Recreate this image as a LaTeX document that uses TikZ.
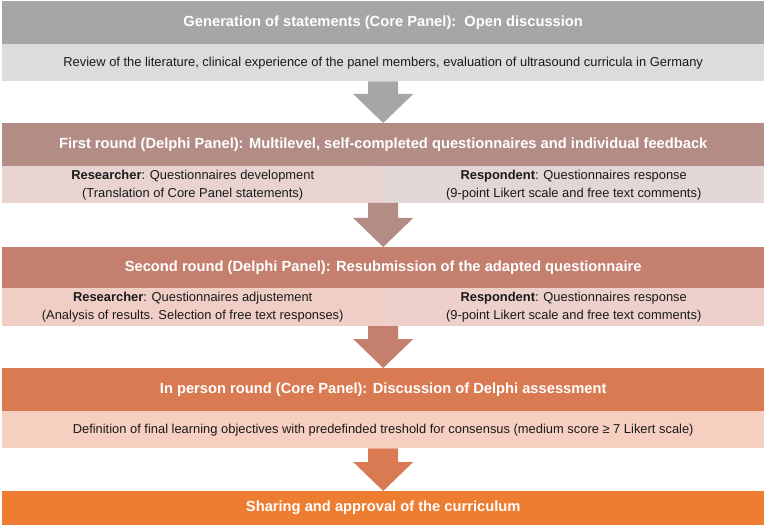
\documentclass[tikz,border=0pt]{standalone}
\usepackage{fontspec}
\setmainfont{Liberation Sans}
\usetikzlibrary{calc}
\definecolor{hA}{HTML}{A6A6A6}
\definecolor{sA}{HTML}{DCDCDC}
\definecolor{hB}{HTML}{B38C86}
\definecolor{sBl}{HTML}{E8D3D1}
\definecolor{sBr}{HTML}{E3D6D6}
\definecolor{hC}{HTML}{C47F6E}
\definecolor{sCl}{HTML}{F0CEC6}
\definecolor{sCr}{HTML}{EDD0CA}
\definecolor{hD}{HTML}{D97A52}
\definecolor{sD}{HTML}{F6CFC1}
\definecolor{hE}{HTML}{ED7D31}
\definecolor{txt}{HTML}{1A1A1A}
\tikzset{
  boxbase/.style={rectangle, inner sep=0pt, anchor=north west, align=center},
  hdr/.style={boxbase, minimum width=762pt, text=white, font=\fontsize{14.7}{18}\selectfont\bfseries},
  sub/.style={boxbase, minimum width=762pt, text=txt, font=\fontsize{12.9}{18}\selectfont},
  half/.style={boxbase, minimum width=381pt, text=txt, font=\fontsize{12.9}{18}\selectfont},
}
\begin{document}
\begin{tikzpicture}[x=1pt,y=-1pt]
\useasboundingbox (0,0) rectangle (767,526);
\fill[white] (0,0) rectangle (767,526);
% Block 1
\node[hdr, fill=hA, minimum height=43pt] (h1) at (2,1) {Generation of statements (Core Panel):\ \ Open discussion};
\node[sub, fill=sA, minimum height=37pt] (s1) at (2,44) {Review of the literature, clinical experience of the panel members, evaluation of ultrasound curricula in Germany};
% Block 2
\node[hdr, fill=hB, minimum height=43pt] (h2) at (2,123) {First round (Delphi Panel): Multilevel, self-completed questionnaires and individual feedback};
\node[half, fill=sBl, minimum height=37pt] (s2l) at (2,166) {\textbf{Researcher}: Questionnaires development\\(Translation of Core Panel statements)};
\node[half, fill=sBr, minimum height=37pt] (s2r) at (383,166) {\textbf{Respondent}: Questionnaires response\\(9-point Likert scale and free text comments)};
\coordinate (s2) at (383,203);
% Block 3
\node[hdr, fill=hC, minimum height=41pt] (h3) at (2,247) {Second round (Delphi Panel): Resubmission of the adapted questionnaire};
\node[half, fill=sCl, minimum height=38pt] (s3l) at (2,288) {\textbf{Researcher}: Questionnaires adjustement\\(Analysis of results. Selection of free text responses)};
\node[half, fill=sCr, minimum height=38pt] (s3r) at (383,288) {\textbf{Respondent}: Questionnaires response\\(9-point Likert scale and free text comments)};
\coordinate (s3) at (383,326);
% Block 4
\node[hdr, fill=hD, minimum height=43pt] (h4) at (2,368) {In person round (Core Panel): Discussion of Delphi assessment};
\node[sub, fill=sD, minimum height=37pt] (s4) at (2,411) {Definition of final learning objectives with predefinded treshold for consensus (medium score ≥ 7 Likert scale)};
% Block 5
\node[hdr, fill=hE, minimum height=34pt] (h5) at (2,491) {Sharing and approval of the curriculum};
% Arrows
\fill[hA] ($(s1.south)+(-15,0)$) -- ($(s1.south)+(15,0)$) -- ($(h2.north)+(15,-29)$) -- ($(h2.north)+(30,-29)$) -- (h2.north) -- ($(h2.north)+(-30,-29)$) -- ($(h2.north)+(-15,-29)$) -- cycle;
\fill[hB] ($(s2)+(-15,0)$) -- ($(s2)+(15,0)$) -- ($(h3.north)+(15,-29)$) -- ($(h3.north)+(30,-29)$) -- (h3.north) -- ($(h3.north)+(-30,-29)$) -- ($(h3.north)+(-15,-29)$) -- cycle;
\fill[hC] ($(s3)+(-15,0)$) -- ($(s3)+(15,0)$) -- ($(h4.north)+(15,-29)$) -- ($(h4.north)+(30,-29)$) -- (h4.north) -- ($(h4.north)+(-30,-29)$) -- ($(h4.north)+(-15,-29)$) -- cycle;
\fill[hD] ($(s4.south)+(-15,0)$) -- ($(s4.south)+(15,0)$) -- ($(h5.north)+(15,-29)$) -- ($(h5.north)+(30,-29)$) -- (h5.north) -- ($(h5.north)+(-30,-29)$) -- ($(h5.north)+(-15,-29)$) -- cycle;
\end{tikzpicture}
\end{document}
